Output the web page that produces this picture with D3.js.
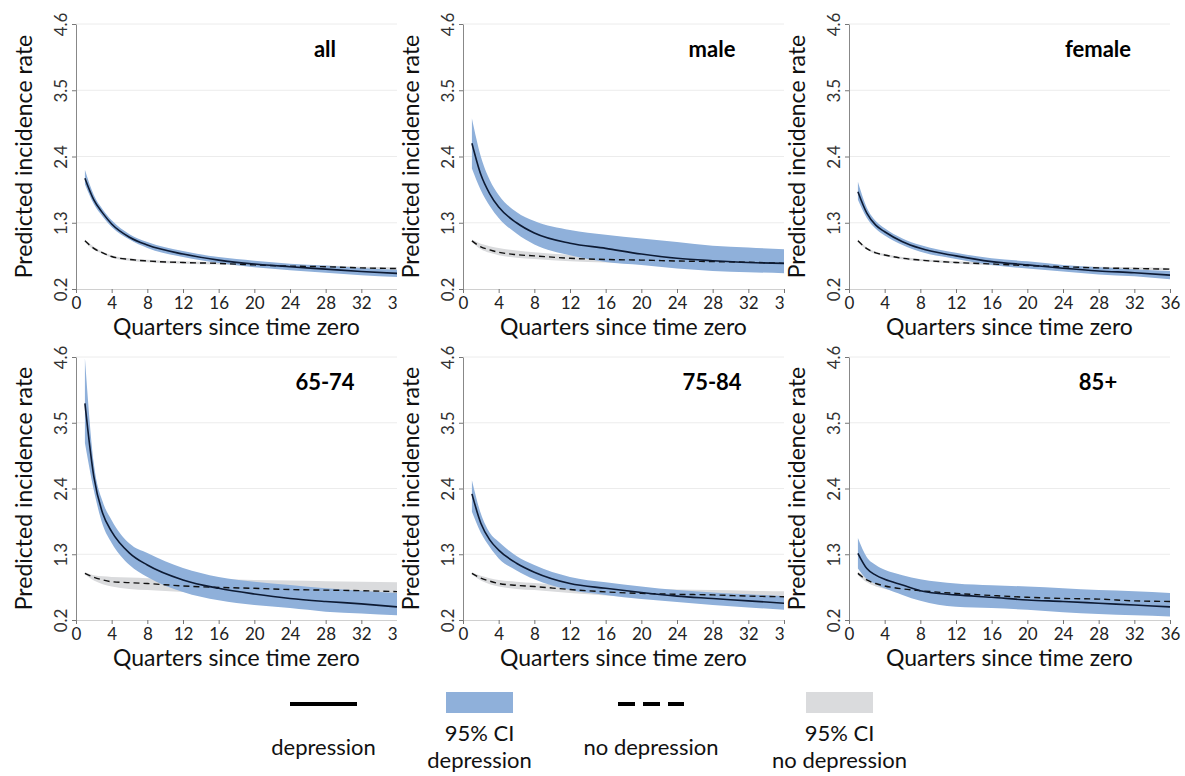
<!DOCTYPE html>
<html>
<head>
<meta charset="utf-8">
<script src="https://cdn.jsdelivr.net/npm/d3@7"></script>
<style>
  body { margin: 0; background: #fff; }
  svg { font-family: Lato, "Open Sans", sans-serif; }
</style>
</head>
<body>
<svg id="chart" width="1185" height="776"></svg>
<script>
const quarters = [1, 2, 3, 4, 6, 8, 12, 16, 20, 24, 28, 32, 36];
const xTicks = [0, 4, 8, 12, 16, 20, 24, 28, 32, 36];
const yTicks = [0.2, 1.3, 2.4, 3.5, 4.6];
const panelNames = ["all", "male", "female", "65-74", "75-84", "85+"];

// all
const allDep      = [2.04, 1.68, 1.46, 1.28, 1.06, 0.93, 0.78, 0.68, 0.615, 0.57, 0.53, 0.49, 0.46];
const allDepHigh  = [2.18, 1.76, 1.52, 1.34, 1.11, 0.98, 0.83, 0.73, 0.67, 0.62, 0.59, 0.55, 0.52];
const allDepLow   = [1.94, 1.61, 1.40, 1.23, 1.02, 0.88, 0.73, 0.63, 0.56, 0.51, 0.47, 0.43, 0.40];
const allNo       = [1.00, 0.875, 0.80, 0.74, 0.69, 0.665, 0.64, 0.625, 0.60, 0.58, 0.57, 0.55, 0.54];
const allNoHigh   = [1.02, 0.90, 0.82, 0.76, 0.71, 0.685, 0.66, 0.645, 0.62, 0.60, 0.59, 0.57, 0.56];
const allNoLow    = [0.98, 0.85, 0.78, 0.72, 0.67, 0.645, 0.62, 0.605, 0.58, 0.56, 0.55, 0.53, 0.52];

// male
const maleDep     = [2.62, 2.10, 1.78, 1.56, 1.30, 1.13, 0.96, 0.875, 0.78, 0.71, 0.67, 0.64, 0.625];
const maleDepHigh = [3.03, 2.40, 2.01, 1.76, 1.48, 1.33, 1.18, 1.10, 1.04, 0.98, 0.92, 0.89, 0.86];
const maleDepLow  = [2.20, 1.84, 1.58, 1.38, 1.12, 0.94, 0.76, 0.65, 0.60, 0.54, 0.50, 0.48, 0.46];
const maleNo      = [1.00, 0.90, 0.85, 0.81, 0.77, 0.75, 0.71, 0.69, 0.68, 0.665, 0.655, 0.645, 0.625];
const maleNoHigh  = [1.02, 0.95, 0.91, 0.88, 0.84, 0.81, 0.77, 0.75, 0.74, 0.72, 0.71, 0.70, 0.68];
const maleNoLow   = [0.98, 0.86, 0.80, 0.76, 0.72, 0.70, 0.66, 0.64, 0.62, 0.61, 0.60, 0.59, 0.57];

// female
const femDep      = [1.815, 1.46, 1.26, 1.15, 0.985, 0.875, 0.75, 0.655, 0.60, 0.545, 0.50, 0.47, 0.43];
const femDepHigh  = [1.98, 1.55, 1.33, 1.21, 1.04, 0.93, 0.80, 0.71, 0.66, 0.60, 0.56, 0.53, 0.50];
const femDepLow   = [1.68, 1.38, 1.20, 1.09, 0.93, 0.82, 0.70, 0.60, 0.54, 0.49, 0.44, 0.41, 0.36];
const femNo       = [1.00, 0.87, 0.80, 0.765, 0.71, 0.68, 0.64, 0.615, 0.59, 0.57, 0.55, 0.54, 0.53];
const femNoHigh   = [1.02, 0.89, 0.82, 0.785, 0.73, 0.70, 0.66, 0.635, 0.61, 0.59, 0.57, 0.56, 0.55];
const femNoLow    = [0.98, 0.85, 0.78, 0.745, 0.69, 0.66, 0.62, 0.595, 0.57, 0.55, 0.53, 0.52, 0.51];

// 65-74
const a65Dep      = [3.825, 2.60, 1.98, 1.68, 1.32, 1.12, 0.87, 0.73, 0.635, 0.56, 0.51, 0.47, 0.42];
const a65DepHigh  = [4.58, 2.82, 2.18, 1.87, 1.48, 1.32, 1.07, 0.92, 0.84, 0.785, 0.73, 0.69, 0.65];
const a65DepLow   = [3.16, 2.37, 1.79, 1.49, 1.12, 0.92, 0.67, 0.53, 0.45, 0.40, 0.34, 0.31, 0.28];
const a65No       = [0.98, 0.915, 0.87, 0.84, 0.825, 0.81, 0.77, 0.745, 0.73, 0.71, 0.70, 0.69, 0.675];
const a65NoHigh   = [1.00, 0.95, 0.93, 0.92, 0.91, 0.90, 0.89, 0.88, 0.87, 0.86, 0.85, 0.84, 0.83];
const a65NoLow    = [0.96, 0.86, 0.80, 0.76, 0.72, 0.70, 0.67, 0.65, 0.64, 0.63, 0.62, 0.62, 0.62];

// 75-84
const a75Dep      = [2.31, 1.82, 1.54, 1.37, 1.15, 1.00, 0.81, 0.73, 0.66, 0.60, 0.56, 0.52, 0.48];
const a75DepHigh  = [2.54, 1.98, 1.66, 1.51, 1.27, 1.12, 0.92, 0.83, 0.76, 0.70, 0.66, 0.63, 0.60];
const a75DepLow   = [2.01, 1.66, 1.42, 1.23, 1.03, 0.88, 0.70, 0.62, 0.55, 0.50, 0.45, 0.41, 0.37];
const a75No       = [0.98, 0.90, 0.85, 0.81, 0.78, 0.76, 0.71, 0.67, 0.645, 0.63, 0.62, 0.60, 0.59];
const a75NoHigh   = [1.00, 0.94, 0.90, 0.87, 0.84, 0.82, 0.78, 0.75, 0.73, 0.71, 0.70, 0.69, 0.68];
const a75NoLow    = [0.96, 0.86, 0.80, 0.76, 0.72, 0.70, 0.65, 0.61, 0.58, 0.56, 0.55, 0.53, 0.52];

// 85+
const a85Dep      = [1.315, 1.06, 0.95, 0.88, 0.785, 0.69, 0.62, 0.58, 0.535, 0.51, 0.48, 0.45, 0.42];
const a85DepHigh  = [1.57, 1.25, 1.12, 1.04, 0.95, 0.88, 0.81, 0.78, 0.76, 0.73, 0.70, 0.68, 0.65];
const a85DepLow   = [1.06, 0.88, 0.80, 0.73, 0.62, 0.52, 0.42, 0.40, 0.37, 0.33, 0.30, 0.28, 0.26];
const a85No       = [0.98, 0.87, 0.81, 0.77, 0.72, 0.69, 0.645, 0.61, 0.58, 0.56, 0.55, 0.52, 0.51];
const a85NoHigh   = [1.01, 0.91, 0.86, 0.82, 0.77, 0.74, 0.70, 0.66, 0.63, 0.61, 0.60, 0.57, 0.56];
const a85NoLow    = [0.95, 0.83, 0.76, 0.72, 0.67, 0.64, 0.59, 0.56, 0.53, 0.51, 0.50, 0.47, 0.46];

const legendLabels = [["depression"], ["95% CI", "depression"], ["no depression"], ["95% CI", "no depression"]];

// build rows for each panel
function rows(dep, depLow, depHigh, no, noLow, noHigh) {
    return quarters.map((q, i) => ({
        q: q, dep: dep[i], depLow: depLow[i], depHigh: depHigh[i],
        no: no[i], noLow: noLow[i], noHigh: noHigh[i]
    }));
}

const panelData = [
    rows(allDep, allDepLow, allDepHigh, allNo, allNoLow, allNoHigh),
    rows(maleDep, maleDepLow, maleDepHigh, maleNo, maleNoLow, maleNoHigh),
    rows(femDep, femDepLow, femDepHigh, femNo, femNoLow, femNoHigh),
    rows(a65Dep, a65DepLow, a65DepHigh, a65No, a65NoLow, a65NoHigh),
    rows(a75Dep, a75DepLow, a75DepHigh, a75No, a75NoLow, a75NoHigh),
    rows(a85Dep, a85DepLow, a85DepHigh, a85No, a85NoLow, a85NoHigh)
];

const svg = d3.select("#chart");
const blue = "#8fb0da", grey = "#dadbdd";

// panel geometry: axis x positions per column, plot top/bottom per row
const colAxisX = [76, 463, 849];
const colClip = [[0, 397], [397, 785], [785, 1185]];
const rowY = [[24, 289], [357, 620]];
const plotW = 321;

const defs = svg.append("defs");

panelNames.forEach((name, p) => {
    const col = p % 3, row = Math.floor(p / 3);
    const left = colAxisX[col], top = rowY[row][0], bottom = rowY[row][1];
    const data = panelData[p];

    defs.append("clipPath").attr("id", "clip" + p)
        .append("rect")
        .attr("x", colClip[col][0]).attr("y", top - 30)
        .attr("width", colClip[col][1] - colClip[col][0]).attr("height", bottom - top + 90);

    const g = svg.append("g").attr("clip-path", `url(#clip${p})`);

    const x = d3.scaleLinear().domain([0, 36]).range([left, left + plotW]);
    const y = d3.scaleLinear().domain([0.2, 4.6]).range([bottom, top]);

    // gridlines
    g.append("g").selectAll("line")
        .data(yTicks.slice(1))
        .enter().append("line")
        .attr("x1", left).attr("x2", left + plotW)
        .attr("y1", d => y(d)).attr("y2", d => y(d))
        .attr("stroke", "#ececec").attr("stroke-width", 1);

    // x axis
    const xAxis = g.append("g")
        .attr("transform", `translate(0,${bottom})`)
        .call(d3.axisBottom(x).tickValues(xTicks).tickSize(4).tickSizeOuter(0).tickPadding(4));
    xAxis.select(".domain").attr("stroke", "#d0d0d0");
    xAxis.selectAll(".tick line").attr("stroke", "#777");
    xAxis.selectAll("text").attr("font-size", 17).attr("fill", "#222")
        .attr("font-family", "Lato, 'Open Sans', sans-serif");

    // y axis with rotated labels
    const yAxis = g.append("g")
        .attr("transform", `translate(${left},0)`)
        .call(d3.axisLeft(y).tickValues(yTicks).tickSize(4).tickSizeOuter(0).tickFormat(d3.format(".1f")));
    yAxis.select(".domain").attr("stroke", "#888");
    yAxis.selectAll(".tick line").attr("stroke", "#777");
    yAxis.selectAll("text")
        .attr("font-size", 17).attr("fill", "#333")
        .attr("font-family", "Lato, 'Open Sans', sans-serif")
        .attr("text-anchor", "middle")
        .attr("x", 0).attr("dy", 0)
        .attr("transform", "translate(-9,0) rotate(-90)");

    // confidence bands
    const area = (lo, hi) => d3.area()
        .x(d => x(d.q)).y0(d => y(d[lo])).y1(d => y(d[hi]))
        .curve(d3.curveMonotoneX);
    g.append("path").datum(data).attr("d", area("noLow", "noHigh")).attr("fill", grey);
    g.append("path").datum(data).attr("d", area("depLow", "depHigh")).attr("fill", blue);

    // lines
    const line = key => d3.line().x(d => x(d.q)).y(d => y(d[key])).curve(d3.curveMonotoneX);
    g.append("path").datum(data).attr("d", line("no"))
        .attr("fill", "none").attr("stroke", "#111").attr("stroke-width", 1.4)
        .attr("stroke-dasharray", "6,4");
    g.append("path").datum(data).attr("d", line("dep"))
        .attr("fill", "none").attr("stroke", "#0d1a33").attr("stroke-width", 1.6);

    // panel title
    g.append("text")
        .attr("x", left + 249).attr("y", top + 33)
        .attr("text-anchor", "middle")
        .attr("font-size", 22).attr("font-weight", "bold")
        .text(name);

    // axis titles
    g.append("text")
        .attr("x", left + plotW / 2).attr("y", bottom + 46)
        .attr("text-anchor", "middle")
        .attr("font-size", 23).attr("fill", "#111")
        .text("Quarters since time zero");

    g.append("text")
        .attr("transform", `translate(${left - 52},${(top + bottom) / 2}) rotate(-90)`)
        .attr("dy", "0.35em")
        .attr("text-anchor", "middle")
        .attr("font-size", 23).attr("fill", "#111")
        .text("Predicted incidence rate");
});

// legend
const legendX = [323.5, 479.5, 651, 839.5];
const lg = svg.append("g");
lg.append("line").attr("x1", 290).attr("x2", 357).attr("y1", 704).attr("y2", 704)
    .attr("stroke", "#000").attr("stroke-width", 4);
lg.append("rect").attr("x", 446).attr("y", 692).attr("width", 67).attr("height", 21).attr("fill", blue);
lg.append("line").attr("x1", 618).attr("x2", 684).attr("y1", 704).attr("y2", 704)
    .attr("stroke", "#000").attr("stroke-width", 4).attr("stroke-dasharray", "17,8");
lg.append("rect").attr("x", 806).attr("y", 692).attr("width", 67).attr("height", 21).attr("fill", grey);

legendLabels.forEach((lines, i) => {
    const t = lg.append("text")
        .attr("x", legendX[i]).attr("text-anchor", "middle")
        .attr("font-size", 22).attr("fill", "#111");
    if (lines.length === 1) {
        t.attr("y", 755).text(lines[0]);
    } else {
        t.attr("y", 741).text(lines[0]);
        lg.append("text").attr("x", legendX[i]).attr("y", 768)
            .attr("text-anchor", "middle").attr("font-size", 22).attr("fill", "#111")
            .text(lines[1]);
    }
});
</script>
</body>
</html>
